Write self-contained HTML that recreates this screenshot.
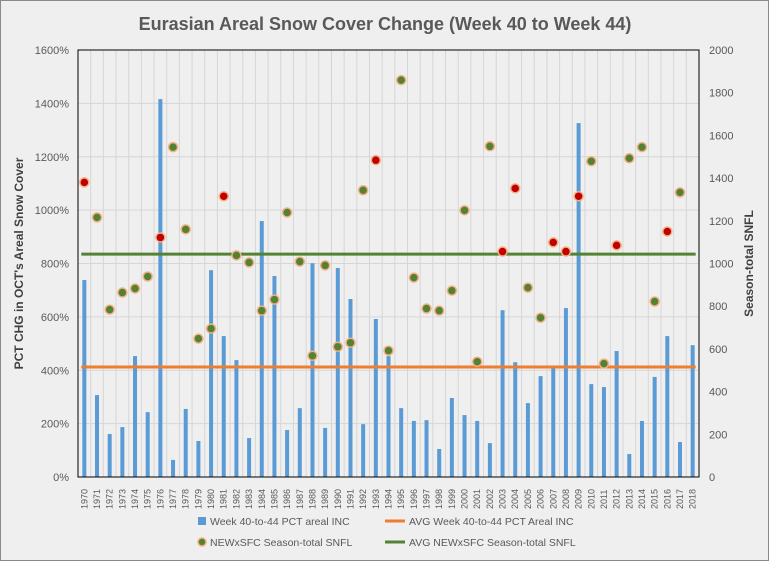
<!DOCTYPE html>
<html><head><meta charset="utf-8"><style>
body{margin:0;background:#fff;font-family:"Liberation Sans",sans-serif}
#wrap{width:767px;height:559px;border:1px solid #8a8a8a;background:#efefef;position:relative}
</style></head><body>
<div id="wrap">
<svg id="chart" width="767" height="559" style="position:absolute;left:0;top:0"></svg>
</div>
<script>
const years=[];for(let y=1970;y<=2018;y++)years.push(String(y));
const barPct=[738,307,161,187,453,243,1416,64,255,135,775,528,438,146,959,753,176,258,801,184,783,667,198,592,453,258,210,213,105,296,232,210,127,625,430,277,378,412,633,1326,348,337,472,86,210,375,528,131,494];
const snfl=[1380,1216,784,864,883,939,1122,1545,1160,648,695,1315,1038,1005,779,831,1239,1009,568,991,610,629,1343,1484,592,1859,934,789,779,873,1249,540,1549,1056,1352,887,746,1099,1056,1315,1479,531,1085,1493,1545,822,1150,1333,null];
const snflRed=[1,0,0,0,0,0,1,0,0,0,0,1,0,0,0,0,0,0,0,0,0,0,0,1,0,0,0,0,0,0,0,0,0,1,1,0,0,1,1,1,0,0,1,0,0,0,1,0,0];
const avgPct=[412];
const avgSnfl=[1044];
const leftTicks=[0,200,400,600,800,1000,1200,1400,1600];
const rightTicks=[0,200,400,600,800,1000,1200,1400,1600,1800,2000];

const svg=document.getElementById('chart');const NS='http://www.w3.org/2000/svg';
function el(t,a,p){const e=document.createElementNS(NS,t);for(const k in a)e.setAttribute(k,a[k]);(p||svg).appendChild(e);return e;}
const L=77,R=698,T=49,B=476;
const step=(R-L)/years.length;
const xc=i=>L+step*(i+0.5);
const yL=v=>B-(v/1600)*(B-T);
const yR=v=>B-(v/2000)*(B-T);

const t=el('text',{x:384,y:29,'text-anchor':'middle','font-size':18,'font-weight':'bold',fill:'#595959'});t.textContent='Eurasian Areal Snow Cover Change (Week 40 to Week 44)';



for(let i=0;i<=years.length;i++){const g=el('line',{x1:L+step*i,x2:L+step*i,y1:T,y2:B,stroke:'#d6d6d6','stroke-width':1});

}
leftTicks.forEach(v=>{const g=el('line',{x1:L,x2:R,y1:yL(v),y2:yL(v),stroke:'#d6d6d6','stroke-width':1});


const tx=el('text',{x:L-9,y:yL(v)+4,'text-anchor':'end','font-size':11,fill:'#595959'});tx.textContent=v+'%';

});
rightTicks.forEach(v=>{const tx=el('text',{x:R+10,y:yR(v)+4,'text-anchor':'start','font-size':11,fill:'#595959'});tx.textContent=v;

});

barPct.forEach((v,i)=>{const b=el('rect',{x:xc(i)-2,y:yL(v),width:4,height:B-yL(v),fill:'#5b9bd5'});

});
const ao=el('line',{x1:xc(0)-3,x2:xc(years.length-1)+3,y1:yL(avgPct[0]),y2:yL(avgPct[0]),stroke:'#ed7d31','stroke-width':3});


const ag=el('line',{x1:xc(0)-3,x2:xc(years.length-1)+3,y1:yR(avgSnfl[0]),y2:yR(avgSnfl[0]),stroke:'#548235','stroke-width':3});


snfl.forEach((v,i)=>{if(v==null)return;const c=el('circle',{cx:xc(i),cy:yR(v),r:4.5,fill:snflRed[i]?'#c00000':'#548235',stroke:'#f4b183','stroke-width':1.5});

});
const fr=el('rect',{x:L,y:T,width:R-L,height:B-T,fill:'none',stroke:'#000','stroke-width':1});


years.forEach((y,i)=>{const tx=el('text',{transform:`translate(${xc(i)+3},${B+32}) rotate(-90)`,'font-size':9,fill:'#595959'});tx.textContent=y;

});
const ly=el('text',{transform:`translate(22,${(T+B)/2}) rotate(-90)`,'text-anchor':'middle','font-size':12,'font-weight':'bold',fill:'#404040'});ly.textContent="PCT CHG in OCT's Areal Snow Cover";


const ry=el('text',{transform:`translate(752,${(T+B)/2}) rotate(-90)`,'text-anchor':'middle','font-size':12,'font-weight':'bold',fill:'#404040'});ry.textContent='Season-total SNFL';


function leg(kind,x,y,label,name){
 const g=el('g',{});
 
 
 if(kind==='bar')el('rect',{x:x,y:y-4,width:8,height:8,fill:'#5b9bd5'},g);
 else if(kind==='ol')el('line',{x1:x-6,x2:x+14,y1:y,y2:y,stroke:'#ed7d31','stroke-width':3},g);
 else if(kind==='gl')el('line',{x1:x-6,x2:x+14,y1:y,y2:y,stroke:'#548235','stroke-width':3},g);
 else el('circle',{cx:x+4,cy:y,r:4,fill:'#548235',stroke:'#f4b183','stroke-width':1.5},g);
 const tx=el('text',{x:x+(kind==='bar'||kind==='dot'?12:18),y:y+4,'font-size':10.5,fill:'#595959'},g);tx.textContent=label;
}
leg('bar',197,520,'Week 40-to-44 PCT areal INC','legend-bar');
leg('ol',390,520,'AVG Week 40-to-44 PCT Areal INC','legend-avg-pct');
leg('dot',197,541,'NEWxSFC Season-total SNFL','legend-snfl');
leg('gl',390,541,'AVG NEWxSFC Season-total SNFL','legend-avg-snfl');
</script>
</body></html>
